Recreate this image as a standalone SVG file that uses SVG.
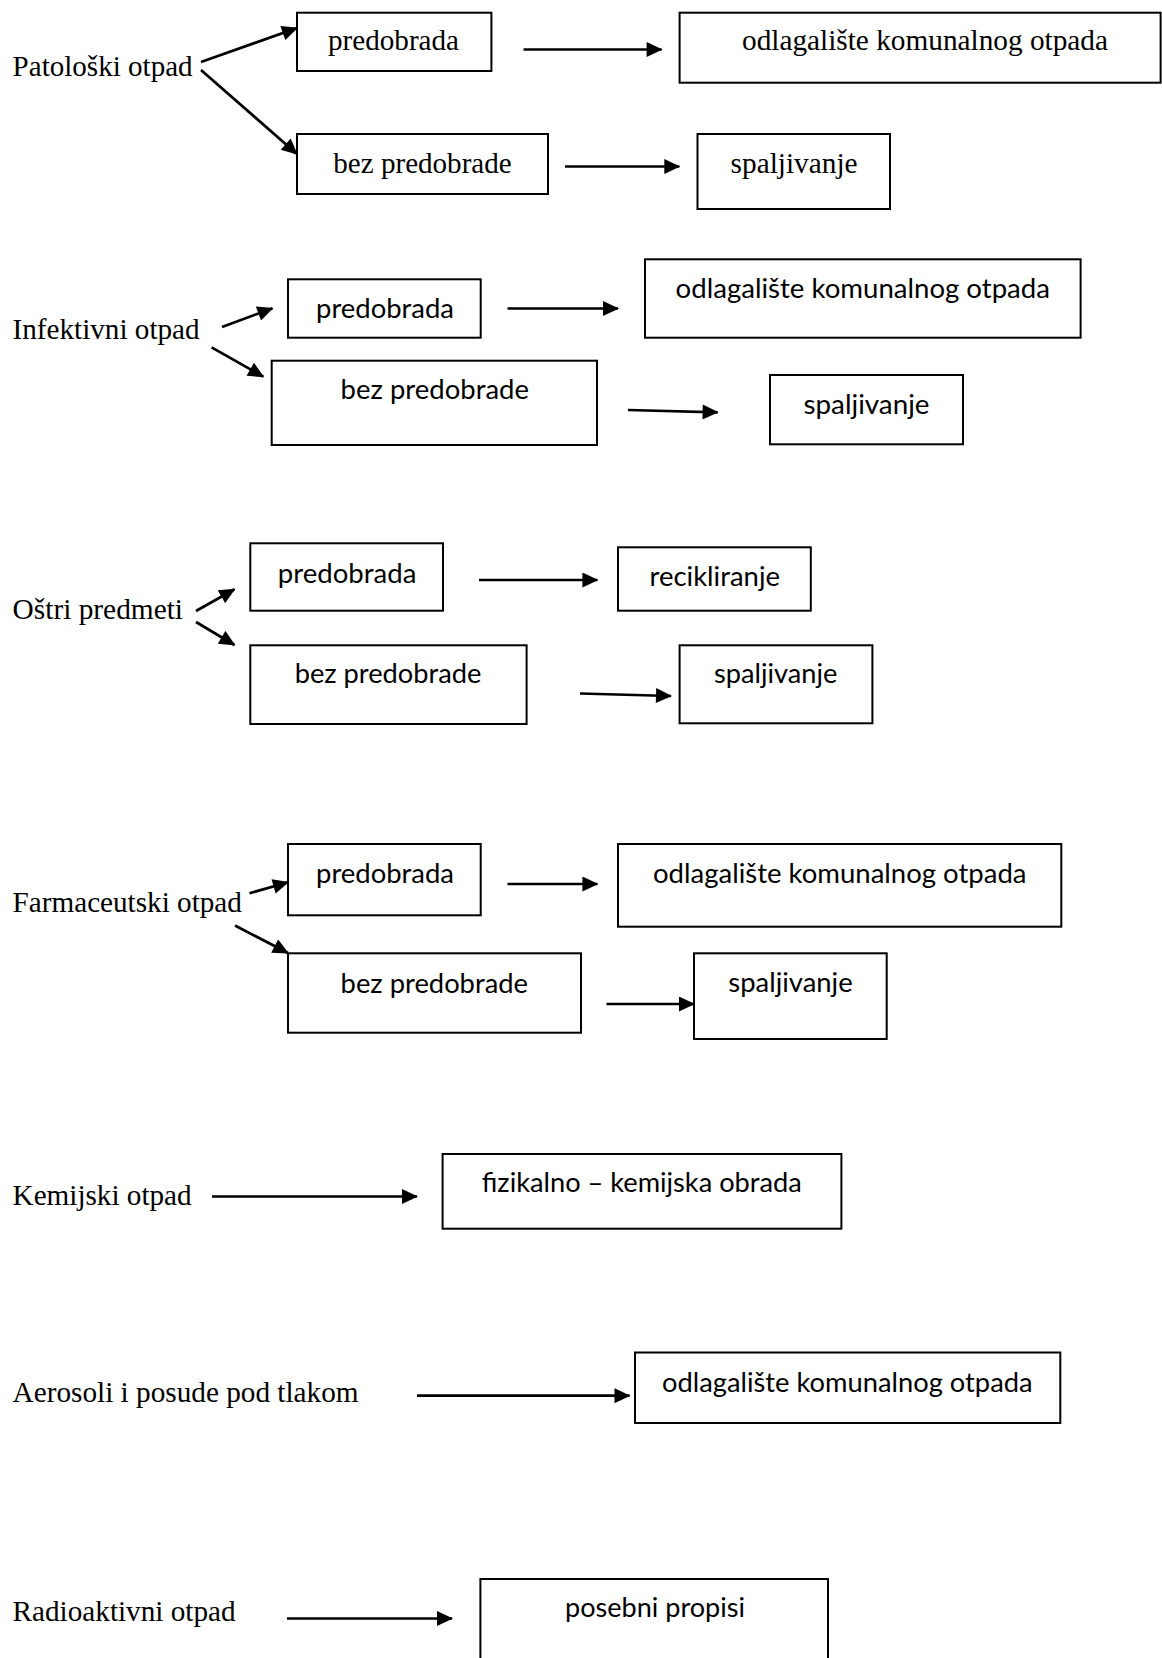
<svg xmlns="http://www.w3.org/2000/svg" width="1162" height="1658" viewBox="0 0 1162 1658">
<style>
.box{fill:#fff;stroke:#000;stroke-width:2}
.serif{font-family:"Liberation Serif","Times New Roman",serif;font-size:29px;fill:#000}
.sans{font-family:Lato,"Open Sans",sans-serif;font-size:27px;fill:#000}
.conn line{stroke:#000;stroke-width:2.7;fill:none;marker-end:url(#ah)}
</style>
<defs>
<marker id="ah" markerUnits="userSpaceOnUse" markerWidth="17" markerHeight="15" viewBox="0 0 16 15" refX="15" refY="7.5" orient="auto">
<path d="M0,0 L16,7.5 L0,15 z" fill="#000"/>
</marker>
</defs>
<rect width="1162" height="1658" fill="#fff"/>

<g id="sec1">
<g id="patoloski"><text class="serif" x="12.6" y="76" textLength="180" lengthAdjust="spacingAndGlyphs">Patološki otpad</text></g>
<g id="s1_predobrada"><rect class="box" x="297" y="12.7" width="194.4" height="58.3"/><text class="serif" x="328" y="50" textLength="131" lengthAdjust="spacingAndGlyphs">predobrada</text></g>
<g id="s1_odlagaliste"><rect class="box" x="679.6" y="12.7" width="481" height="70"/><text class="serif" x="742" y="50" textLength="366" lengthAdjust="spacingAndGlyphs">odlagalište komunalnog otpada</text></g>
<g id="s1_bez"><rect class="box" x="297" y="134" width="251" height="60"/><text class="serif" x="333.3" y="173" textLength="178.4" lengthAdjust="spacingAndGlyphs">bez predobrade</text></g>
<g id="s1_spaljivanje"><rect class="box" x="697.5" y="134" width="192.5" height="75"/><text class="serif" x="730.6" y="173" textLength="127" lengthAdjust="spacingAndGlyphs">spaljivanje</text></g>
</g>

<g id="sec2">
<g id="infektivni"><text class="serif" x="12.6" y="339" textLength="187" lengthAdjust="spacingAndGlyphs">Infektivni otpad</text></g>
<g id="s2_predobrada"><rect class="box" x="288" y="279.3" width="192.7" height="58.4"/><text class="sans" x="316" y="318" textLength="138" lengthAdjust="spacingAndGlyphs">predobrada</text></g>
<g id="s2_odlagaliste"><rect class="box" x="645" y="259.3" width="435.6" height="78.4"/><text class="sans" x="675.6" y="298" textLength="374.4" lengthAdjust="spacingAndGlyphs">odlagalište komunalnog otpada</text></g>
<g id="s2_bez"><rect class="box" x="271.7" y="360.7" width="325.3" height="84.3"/><text class="sans" x="340.6" y="399" textLength="188.4" lengthAdjust="spacingAndGlyphs">bez predobrade</text></g>
<g id="s2_spaljivanje"><rect class="box" x="770" y="375" width="193" height="69.3"/><text class="sans" x="803.5" y="414" textLength="126" lengthAdjust="spacingAndGlyphs">spaljivanje</text></g>
</g>

<g id="sec3">
<g id="ostri"><text class="serif" x="12.6" y="619" textLength="170.4" lengthAdjust="spacingAndGlyphs">Oštri predmeti</text></g>
<g id="s3_predobrada"><rect class="box" x="250.3" y="543.3" width="192.7" height="67.4"/><text class="sans" x="277.8" y="583" textLength="138.6" lengthAdjust="spacingAndGlyphs">predobrada</text></g>
<g id="s3_recikliranje"><rect class="box" x="618" y="547.3" width="192.8" height="63.4"/><text class="sans" x="649.5" y="586" textLength="130.5" lengthAdjust="spacingAndGlyphs">recikliranje</text></g>
<g id="s3_bez"><rect class="box" x="250.3" y="645.3" width="276.3" height="78.7"/><text class="sans" x="294.7" y="683" textLength="186.7" lengthAdjust="spacingAndGlyphs">bez predobrade</text></g>
<g id="s3_spaljivanje"><rect class="box" x="679.6" y="645.3" width="192.8" height="78"/><text class="sans" x="714" y="683" textLength="123.3" lengthAdjust="spacingAndGlyphs">spaljivanje</text></g>
</g>

<g id="sec4">
<g id="farmaceutski"><text class="serif" x="12.6" y="912" textLength="229.3" lengthAdjust="spacingAndGlyphs">Farmaceutski otpad</text></g>
<g id="s4_predobrada"><rect class="box" x="288" y="844" width="192.7" height="71.3"/><text class="sans" x="316" y="882.7" textLength="138" lengthAdjust="spacingAndGlyphs">predobrada</text></g>
<g id="s4_odlagaliste"><rect class="box" x="618" y="844" width="443.3" height="82.7"/><text class="sans" x="653" y="882.7" textLength="373.5" lengthAdjust="spacingAndGlyphs">odlagalište komunalnog otpada</text></g>
<g id="s4_bez"><rect class="box" x="288" y="953.3" width="293" height="79.4"/><text class="sans" x="340.6" y="992.7" textLength="187.4" lengthAdjust="spacingAndGlyphs">bez predobrade</text></g>
<g id="s4_spaljivanje"><rect class="box" x="694" y="953.3" width="192.7" height="85.7"/><text class="sans" x="728.3" y="992.3" textLength="124.4" lengthAdjust="spacingAndGlyphs">spaljivanje</text></g>
</g>

<g id="sec5">
<g id="kemijski"><text class="serif" x="12.6" y="1205" textLength="179" lengthAdjust="spacingAndGlyphs">Kemijski otpad</text></g>
<g id="s5_obrada"><rect class="box" x="442.6" y="1154" width="398.8" height="74.7"/><text class="sans" x="481.8" y="1192.3" textLength="320" lengthAdjust="spacingAndGlyphs">fizikalno – kemijska obrada</text></g>
</g>

<g id="sec6">
<g id="aerosoli"><text class="serif" x="12.6" y="1402" textLength="346" lengthAdjust="spacingAndGlyphs">Aerosoli i posude pod tlakom</text></g>
<g id="s6_odlagaliste"><rect class="box" x="635" y="1352.5" width="425.3" height="70.5"/><text class="sans" x="662" y="1392.3" textLength="370.6" lengthAdjust="spacingAndGlyphs">odlagalište komunalnog otpada</text></g>
</g>

<g id="sec7">
<g id="radioaktivni"><text class="serif" x="12.6" y="1621" textLength="223" lengthAdjust="spacingAndGlyphs">Radioaktivni otpad</text></g>
<g id="s7_propisi"><rect class="box" x="480.4" y="1579" width="347.6" height="100"/><text class="sans" x="565" y="1617" textLength="180" lengthAdjust="spacingAndGlyphs">posebni propisi</text></g>
</g>

<g id="connectors" class="conn">
<line x1="201" y1="62" x2="297" y2="28"/>
<line x1="201" y1="70" x2="297" y2="154"/>
<line x1="523.5" y1="49.5" x2="661.6" y2="49.5"/>
<line x1="565" y1="166.5" x2="679.3" y2="166.5"/>

<line x1="222" y1="327" x2="272.5" y2="308.3"/>
<line x1="211.6" y1="347.3" x2="263.3" y2="376.7"/>
<line x1="507.5" y1="308.5" x2="618" y2="308.5"/>
<line x1="628" y1="410" x2="717.6" y2="412.3"/>

<line x1="196" y1="611" x2="234.5" y2="589.3"/>
<line x1="196" y1="622" x2="234.5" y2="645"/>
<line x1="479" y1="580" x2="597.4" y2="580"/>
<line x1="580" y1="693.5" x2="671" y2="696"/>

<line x1="249.5" y1="893.3" x2="288" y2="882.2"/>
<line x1="235" y1="925.5" x2="288" y2="953"/>
<line x1="507.5" y1="884" x2="597.4" y2="884"/>
<line x1="606.5" y1="1004" x2="694" y2="1004"/>

<line x1="212" y1="1196.5" x2="417" y2="1196.5"/>
<line x1="417" y1="1395.7" x2="629.5" y2="1395.7"/>
<line x1="287" y1="1618.5" x2="452" y2="1618.5"/>
</g>
</svg>
